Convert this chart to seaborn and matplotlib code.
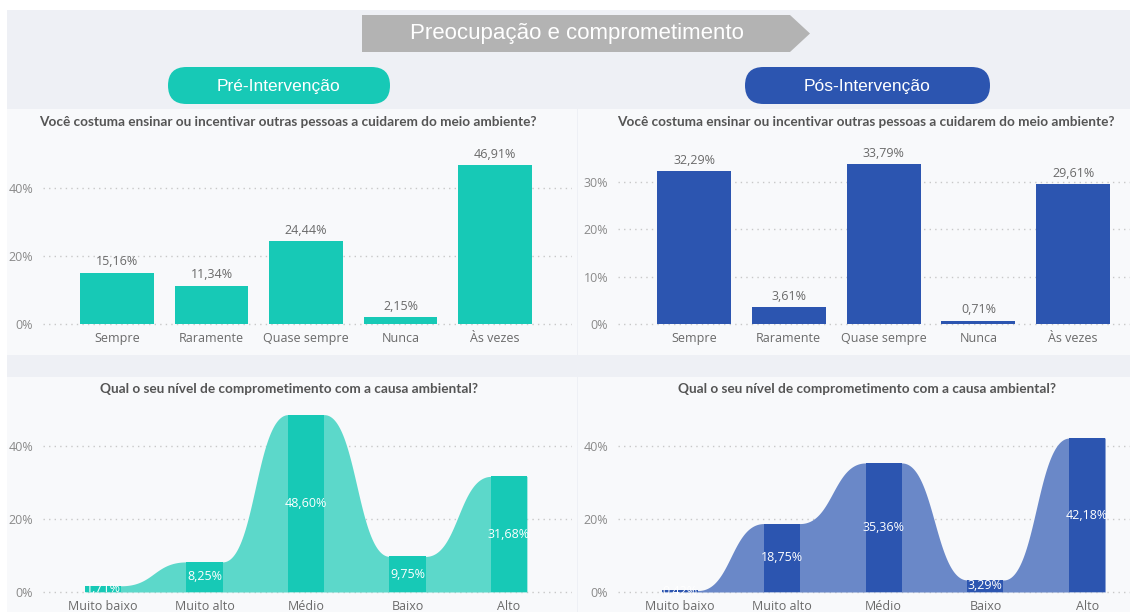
import numpy as np
import pandas as pd
import matplotlib
matplotlib.use("Agg")
import matplotlib.pyplot as plt
import seaborn as sns
from matplotlib.patches import Rectangle, Polygon, FancyBboxPatch
from matplotlib.ticker import FuncFormatter

# ---------------- data ----------------
cats_top = ["Sempre", "Raramente", "Quase sempre", "Nunca", "Às vezes"]
pre_top = [15.16, 11.34, 24.44, 2.15, 46.91]
pos_top = [32.29, 3.61, 33.79, 0.71, 29.61]

cats_bot = ["Muito baixo", "Muito alto", "Médio", "Baixo", "Alto"]
pre_bot = [1.71, 8.25, 48.60, 9.75, 31.68]
pos_bot = [0.42, 18.75, 35.36, 3.29, 42.18]

title_main = "Preocupação e comprometimento"
label_pre = "Pré-Intervenção"
label_pos = "Pós-Intervenção"
q_top = "Você costuma ensinar ou incentivar outras pessoas a cuidarem do meio ambiente?"
q_bot = "Qual o seu nível de comprometimento com a causa ambiental?"

TEAL = "#17c9b6"
TEAL_RIB = "#5cd8ca"
BLUE = "#2c55b0"
BLUE_RIB = "#6a88c8"

sns.set_theme(style="white")
plt.rcParams["font.family"] = ["Open Sans", "DejaVu Sans"]

W, H = 1130, 612
fig = plt.figure(figsize=(W / 100, H / 100), dpi=100)
fig.patch.set_facecolor("white")

# overlay axes in pixel coordinates
bg = fig.add_axes([0, 0, 1, 1])
bg.set_xlim(0, W)
bg.set_ylim(H, 0)
bg.axis("off")
bg.add_patch(Rectangle((7, 10), W - 7, H - 10, facecolor="#eef0f5", edgecolor="none"))
for (x0, y0, x1, y1) in [(7, 109, 577, 355), (578, 109, W, 355),
                         (7, 377, 577, H), (578, 377, W, H)]:
    bg.add_patch(Rectangle((x0, y0), x1 - x0, y1 - y0, facecolor="#f8f9fb", edgecolor="none"))

# header arrow
bg.add_patch(Polygon([(362, 15), (790, 15), (810, 33.5), (790, 52), (362, 52)],
                     closed=True, facecolor="#b3b3b3", edgecolor="none"))
bg.text(577, 34, title_main, color="white", fontsize=16, ha="center", va="center",
        family=["Liberation Sans", "DejaVu Sans"])

# pills
for (x0, x1, col, txt) in [(168, 390, TEAL, label_pre), (745, 990, BLUE, label_pos)]:
    r = 18.5
    bg.add_patch(FancyBboxPatch((x0, 67), x1 - x0, 37,
                                boxstyle=f"round,pad=0,rounding_size={r}",
                                facecolor=col, edgecolor="none"))
    bg.text((x0 + x1) / 2, 86, txt, color="white", fontsize=12.5, ha="center", va="center",
            family=["Liberation Sans", "DejaVu Sans"])

# question titles
for (xc, yc, t) in [(288, 122, q_top), (866, 122, q_top), (289, 389, q_bot), (867, 389, q_bot)]:
    bg.text(xc, yc, t, color="#555555", fontsize=9.8, fontweight="bold", ha="center", va="center",
            family=["Lato", "DejaVu Sans"])


def make_axes(x0, x1, ytop, ybot, c0, step, zero_px, ppu):
    ax = fig.add_axes([x0 / W, 1 - ybot / H, (x1 - x0) / W, (ybot - ytop) / H])
    ax.set_facecolor("none")
    ax._lims = ((x0 - c0) / step, (x1 - c0) / step,
                (zero_px - ybot) / ppu, (zero_px - ytop) / ppu)
    return ax


def style_axes(ax, yticks):
    xl0, xl1, yl0, yl1 = ax._lims
    ax.set_xlim(xl0, xl1)
    ax.set_ylim(yl0, yl1)
    ax.set_yticks(yticks)
    ax.yaxis.set_major_formatter(FuncFormatter(lambda v, p: f"{v:.0f}%"))
    ax.grid(axis="y", linestyle=(0, (1, 3)), color="#c8c8c8", linewidth=1)
    ax.grid(axis="x", visible=False)
    ax.set_axisbelow(True)
    for s in ax.spines.values():
        s.set_visible(False)
    ax.tick_params(axis="y", length=0, pad=7, labelsize=9, labelcolor="#8a8a8a")
    ax.tick_params(axis="x", length=0, pad=4, labelsize=9, labelcolor="#6a6a6a")
    ax.set_xlabel("")
    ax.set_ylabel("")


def fmt(v):
    return f"{v:.2f}".replace(".", ",") + "%"


# ---------- top charts ----------
for (vals, col, geo, yt) in [
    (pre_top, TEAL, (43, 572, 140, 326, 117, 94.5, 324, 3.39), [0, 20, 40]),
    (pos_top, BLUE, (618, W, 140, 326, 694, 94.8, 324, 4.73), [0, 10, 20, 30]),
]:
    ax = make_axes(*geo)
    df = pd.DataFrame({"cat": cats_top, "val": vals})
    sns.barplot(data=df, x="cat", y="val", order=cats_top, color=col, width=0.78,
                saturation=1, ax=ax, edgecolor="none")
    ax.bar_label(ax.containers[0], labels=[fmt(v) for v in vals], padding=3,
                 color="#6a6a6a", fontsize=9)
    style_axes(ax, yt)


# ---------- bottom ribbon charts ----------
def ribbon(ax, vals, width, color):
    n = len(vals)
    xs, ys = [], []
    t = np.linspace(0, 1, 60)
    for i in range(n):
        xl, xr = i - width / 2, i + width / 2
        xs += [xl, xr]
        ys += [vals[i], vals[i]]
        if i < n - 1:
            x0, x1 = xr, (i + 1) - width / 2
            y0, y1 = vals[i], vals[i + 1]
            xm = (x0 + x1) / 2
            bx = (1 - t) ** 3 * x0 + 3 * (1 - t) ** 2 * t * xm + 3 * (1 - t) * t ** 2 * xm + t ** 3 * x1
            by = (1 - t) ** 3 * y0 + 3 * (1 - t) ** 2 * t * y0 + 3 * (1 - t) * t ** 2 * y1 + t ** 3 * y1
            xs += list(bx[1:-1])
            ys += list(by[1:-1])
    ax.fill_between(xs, 0, ys, color=color, linewidth=0, zorder=1.5)


for (vals, col, rib, geo) in [
    (pre_bot, TEAL, TEAL_RIB, (43, 572, 405, 594, 103, 101.5, 592, 3.65)),
    (pos_bot, BLUE, BLUE_RIB, (618, W, 405, 594, 680, 101.8, 592, 3.65)),
]:
    ax = make_axes(*geo)
    bw = 0.355
    ribbon(ax, vals, bw, rib)
    df = pd.DataFrame({"cat": cats_bot, "val": vals})
    sns.barplot(data=df, x="cat", y="val", order=cats_bot, color=col, width=bw,
                saturation=1, ax=ax, edgecolor="none", zorder=2)
    ax.bar_label(ax.containers[0], labels=[fmt(v) for v in vals], label_type="center",
                 color="white", fontsize=9)
    style_axes(ax, [0, 20, 40])

fig.savefig("out.png", dpi=100, facecolor=fig.get_facecolor())
